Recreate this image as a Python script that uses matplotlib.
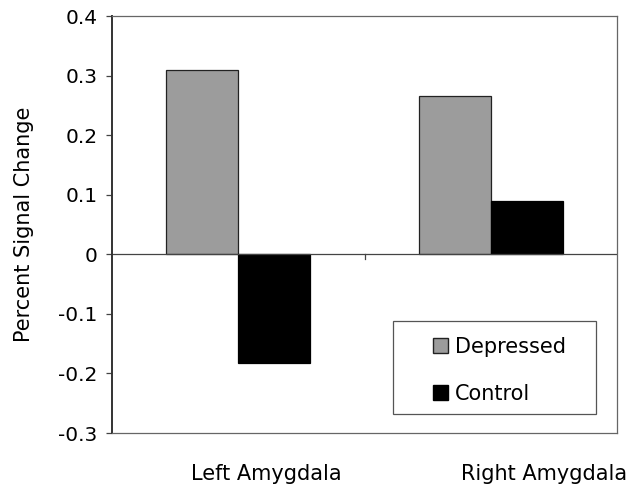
import numpy as np
import matplotlib.pyplot as plt
from matplotlib.patches import Patch, Rectangle

# Данные с графика
regions = ["Left Amygdala", "Right Amygdala"]
depressed = [0.310, 0.266]
control = [-0.183, 0.090]
y_ticks = [-0.3, -0.2, -0.1, 0, 0.1, 0.2, 0.3, 0.4]
y_labels = ["-0.3", "-0.2", "-0.1", "0", "0.1", "0.2", "0.3", "0.4"]

plt.rcParams['font.family'] = ['DejaVu Sans']

fig = plt.figure(figsize=(6.34, 4.86), dpi=100)
ax = fig.add_axes([0.1767, 0.109, 0.7966, 0.858])

x = np.arange(len(regions))
w = 1 / 3.5
ax.bar(x - w / 2, depressed, w, color='#9c9c9c', edgecolor='#222222', linewidth=0.9, label='Depressed')
ax.bar(x + w / 2, control, w, color='black', edgecolor='black', linewidth=0.9, label='Control')

ax.set_xlim(-0.5, len(regions) - 0.5)
ax.set_ylim(-0.3, 0.4)

# Линия нуля и деление между категориями
ax.axhline(0, color='#444444', linewidth=0.9, zorder=1)
zero_frac = 0.3 / 0.7
for b in x[:-1] + 0.5:
    ax.axvline(b, ymin=zero_frac - 0.012, ymax=zero_frac, color='#444444', linewidth=0.9)

ax.set_xticks([])
ax.set_yticks(y_ticks)
ax.set_yticklabels(y_labels, fontsize=14.5)
ax.tick_params(axis='y', direction='out', length=4.3, width=0.9, color='#444444', pad=6)

for s in ax.spines.values():
    s.set_color('#666666')
    s.set_linewidth(0.9)
ax.spines['left'].set_color('#333333')
ax.spines['left'].set_linewidth(1.4)

ax.set_ylabel("Percent Signal Change", fontsize=15)
ax.yaxis.set_label_coords(-0.155, 0.5)

# Подписи категорий (смещены вправо, как на оригинале)
offsets = [0.112, 0.21]
for i, name in enumerate(regions):
    ax.text(x[i] + offsets[i], -0.368, name, ha='center', va='center', fontsize=15)

handles = [Patch(facecolor='#9c9c9c', edgecolor='#222222', label='Depressed'),
           Patch(facecolor='black', edgecolor='black', label='Control')]
leg = ax.legend(handles=handles, loc='upper left', bbox_to_anchor=(0.636, 0.230),
                fontsize=15, frameon=False, borderpad=0,
                handlelength=0.72, handleheight=0.72, handletextpad=0.33,
                labelspacing=1.28, borderaxespad=0)
# рамка легенды
ax.add_patch(Rectangle((0.556, 0.0456), 0.402, 0.223, transform=ax.transAxes,
                       fill=False, edgecolor='#555555', linewidth=0.9, zorder=5))

plt.savefig("out.png", dpi=100)
